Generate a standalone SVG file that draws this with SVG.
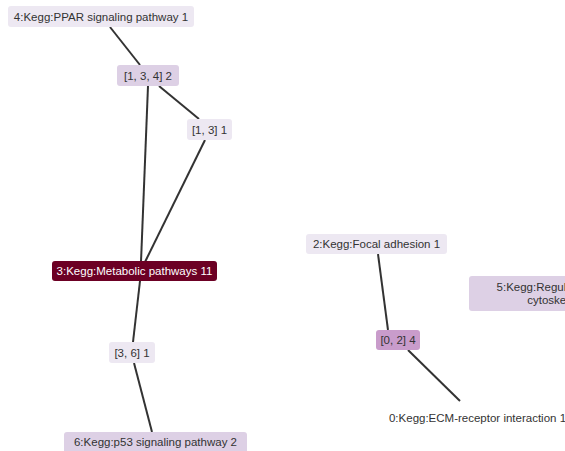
<svg xmlns="http://www.w3.org/2000/svg" width="565" height="451" viewBox="0 0 565 451">
<style>
.e{stroke:#333;stroke-width:2;fill:none}
.b{stroke:none}
.l1{fill:#ede8f2}
.l2{fill:#ddd0e5}
.l3{fill:#c99ccb}
.dk{fill:#6c0024}
text{font-family:"Liberation Sans",Arial,sans-serif;font-size:11.5px;fill:#333;text-anchor:middle;dominant-baseline:central}
.w{fill:#fff}
</style>
<rect width="565" height="451" fill="#fff"/>
<g id="edges">
<line class="e" x1="110" y1="27" x2="140" y2="65"/>
<line class="e" x1="159" y1="86" x2="199" y2="119"/>
<line class="e" x1="148" y1="86" x2="141" y2="262"/>
<line class="e" x1="205" y1="140" x2="145" y2="262"/>
<line class="e" x1="140" y1="281" x2="133" y2="342"/>
<line class="e" x1="134" y1="363" x2="152" y2="432"/>
<line class="e" x1="378" y1="254" x2="388" y2="330"/>
<line class="e" x1="408" y1="350" x2="460" y2="401"/>
</g>
<g id="n4"><rect class="b l1" x="8" y="6" width="186" height="21" rx="3"/><text x="101" y="16.5">4:Kegg:PPAR signaling pathway 1</text></g>
<g id="n134"><rect class="b l2" x="117" y="65" width="62" height="21" rx="3"/><text x="148" y="75.5">[1, 3, 4] 2</text></g>
<g id="n13"><rect class="b l1" x="187" y="119" width="45" height="21" rx="3"/><text x="209.5" y="129.5">[1, 3] 1</text></g>
<g id="n3"><rect class="b dk" x="52" y="261" width="165" height="20" rx="3"/><text class="w" x="134.5" y="271">3:Kegg:Metabolic pathways 11</text></g>
<g id="n36"><rect class="b l1" x="109" y="342" width="46" height="21" rx="3"/><text x="132" y="352.5">[3, 6] 1</text></g>
<g id="n6"><rect class="b l2" x="64" y="432" width="183" height="22" rx="3"/><text x="155.5" y="442">6:Kegg:p53 signaling pathway 2</text></g>
<g id="n2"><rect class="b l1" x="306" y="234" width="141" height="20" rx="3"/><text x="376.5" y="244">2:Kegg:Focal adhesion 1</text></g>
<g id="n5"><rect class="b l2" x="469" y="276" width="190" height="35" rx="3"/><text x="564" y="287">5:Kegg:Regulation of actin</text><text x="564" y="300">cytoskeleton 1</text></g>
<g id="n02"><rect class="b l3" x="376" y="330" width="44" height="20" rx="3"/><text x="398" y="340">[0, 2] 4</text></g>
<g id="n0"><text x="477.5" y="418">0:Kegg:ECM-receptor interaction 1</text></g>
</svg>
